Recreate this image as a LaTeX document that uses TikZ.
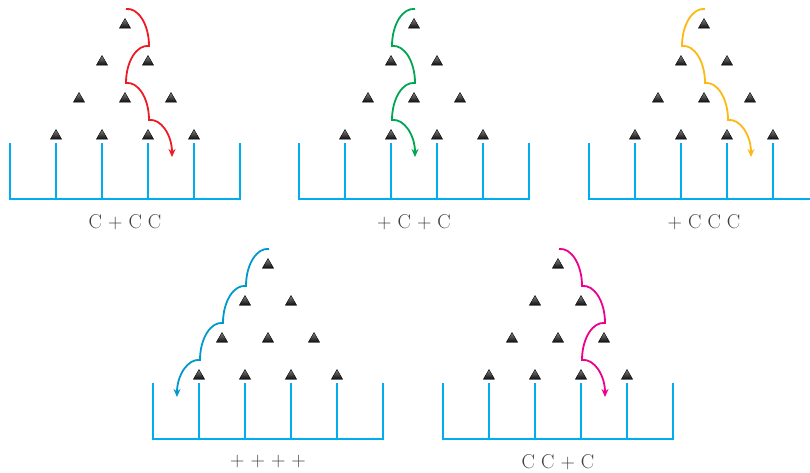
\documentclass[tikz,border=0pt]{standalone}
\usepackage{tikz}
\usetikzlibrary{arrows.meta}
\usetikzlibrary{shapes.geometric}
\definecolor{binblue}{RGB}{0,174,239}
\definecolor{pathred}{RGB}{237,28,36}
\definecolor{pathgreen}{RGB}{0,166,81}
\definecolor{pathyellow}{RGB}{253,185,19}
\definecolor{pathblue}{RGB}{0,153,204}
\definecolor{pathpink}{RGB}{236,0,140}
\tikzset{
    peg/.style={regular polygon, regular polygon sides=3, minimum size=13pt, inner sep=0pt,
        draw=black, line width=0.4pt, top color=black!50, bottom color=black!95},
    bin/.style={draw=binblue, line width=2pt},
    bounce/.style={line width=1.8pt, -{Stealth[length=8pt,width=7pt]}},
    goright/.style={out=8,in=90,out distance=12pt,in distance=22pt},
    goleft/.style={out=172,in=90,out distance=12pt,in distance=22pt},
    outcome/.style={text=black!75, font=\fontsize{20}{24}\selectfont}
}

\begin{document}
\begin{tikzpicture}[x=1pt,y=1pt]
	\clip (0,0) rectangle (810,472);
	\foreach \ox/\oy/\p/\txt in {125/447/a/{C + C C}, 414/447/b/{+ C + C}, 704/447/c/{+ C C C},
	                             268/207/d/{+ + + +}, 558/207/e/{C C + C}}{
		\foreach \r in {0,...,3}
			\foreach \k in {0,...,\r}
				\node[peg] (\p\r\k) at ({\ox+(\k-\r/2)*46},{\oy-\r*37}) {};
		\draw[bin] (\ox-115,\oy-118) |- (\ox+115,\oy-174) -- (\ox+115,\oy-118);
		\foreach \j in {-1.5,-0.5,0.5,1.5}
			\draw[bin] (\ox+\j*46,\oy-118) -- (\ox+\j*46,\oy-174);
		\node[outcome] (\p-lab) at (\ox,\oy-197) {\txt};
		\coordinate (\p-start) at ([shift={(1,16)}]\p00.center);
	}
	\draw[bounce, pathred] (a-start) to[goright] ++(23,-37) to[goleft] ++(-23,-37)
		to[goright] ++(23,-37) to[goright] ++(23,-37);
	\draw[bounce, pathgreen] (b-start) to[goleft] ++(-23,-37) to[goright] ++(23,-37)
		to[goleft] ++(-23,-37) to[goright] ++(23,-37);
	\draw[bounce, pathyellow] (c-start) to[goleft] ++(-23,-37) to[goright] ++(23,-37)
		to[goright] ++(23,-37) to[goright] ++(23,-37);
	\draw[bounce, pathblue] (d-start) to[goleft] ++(-23,-37) to[goleft] ++(-23,-37)
		to[goleft] ++(-23,-37) to[goleft] ++(-23,-37);
	\draw[bounce, pathpink] (e-start) to[goright] ++(23,-37) to[goright] ++(23,-37)
		to[goleft] ++(-23,-37) to[goright] ++(23,-37);
\end{tikzpicture}
\end{document}
